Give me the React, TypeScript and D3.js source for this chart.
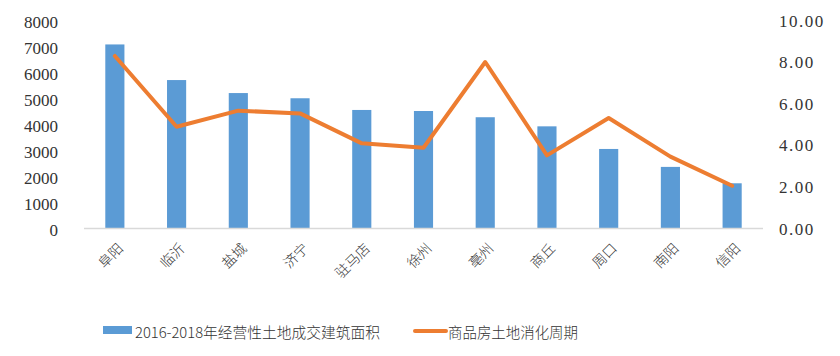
import React from "react";
import * as d3 from "d3";

const categories = ["阜阳", "临沂", "盐城", "济宁", "驻马店", "徐州", "亳州", "商丘", "周口", "南阳", "信阳"];
const areaValues = [7060, 5690, 5190, 4990, 4540, 4500, 4260, 3910, 3040, 2350, 1720];
const cycleValues = [8.27, 4.87, 5.64, 5.51, 4.07, 3.86, 7.98, 3.49, 5.29, 3.43, 2.03];
const leftTicks = [0, 1000, 2000, 3000, 4000, 5000, 6000, 7000, 8000];
const rightTicks = [0, 2, 4, 6, 8, 10];
const barLabel = "2016-2018年经营性土地成交建筑面积";
const lineLabel = "商品房土地消化周期";

const W = 840;
const H = 356;
const M = { left: 84, right: 763, top: 20, bottom: 228 };
const BLUE = "#5B9BD5";
const ORANGE = "#ED7D31";
const TICK_FONT = "Liberation Serif, Times New Roman, serif";
const CJK_FONT = "Noto Sans CJK SC, sans-serif";

export default function App() {
  const x = d3.scaleBand<string>().domain(categories).range([M.left, M.right]).paddingInner(0.69).paddingOuter(0.345);
  const yL = d3.scaleLinear().domain([0, 8000]).range([M.bottom, M.top]);
  const yR = d3.scaleLinear().domain([0, 10]).range([M.bottom, M.top]);
  const cx = (c: string) => (x(c) as number) + x.bandwidth() / 2;
  const line = d3
    .line<number>()
    .x((_, i) => cx(categories[i]))
    .y((d) => yR(d));

  return (
    <svg width={W} height={H} style={{ position: "absolute", left: 0, top: 0, background: "#fff" }}>
      {areaValues.map((v, i) => (
        <rect
          key={categories[i]}
          x={x(categories[i])}
          y={yL(v)}
          width={x.bandwidth()}
          height={yL(0) - yL(v)}
          fill={BLUE}
        />
      ))}
      <line x1={M.left} x2={M.right} y1={M.bottom + 0.5} y2={M.bottom + 0.5} stroke="#d9d9d9" strokeWidth={1.5} />
      <path d={line(cycleValues) || ""} fill="none" stroke={ORANGE} strokeWidth={4} strokeLinejoin="round" strokeLinecap="round" />
      {leftTicks.map((t) => (
        <text key={t} x={58} y={yL(t) + 2} textAnchor="end" dominantBaseline="central" style={{ fontFamily: TICK_FONT, fontSize: 17 }} fill="#333">
          {t}
        </text>
      ))}
      {rightTicks.map((t) => (
        <text key={t} x={779} y={yR(t) + 1} textAnchor="start" dominantBaseline="central" style={{ fontFamily: TICK_FONT, fontSize: 17, letterSpacing: "1.5px" }} fill="#333">
          {d3.format(".2f")(t)}
        </text>
      ))}
      {categories.map((c) => (
        <text
          key={c}
          transform={`translate(${cx(c) + 5},${245}) rotate(-45)`}
          textAnchor="end"
          dominantBaseline="central"
          style={{ fontFamily: CJK_FONT, fontSize: 14, fontWeight: 300 }}
          fill="#333"
        >
          {c}
        </text>
      ))}
      <rect x={103} y={326} width={29} height={8} fill={BLUE} />
      <text x={135} y={331} dominantBaseline="central" style={{ fontFamily: CJK_FONT, fontSize: 14.5, fontWeight: 300 }} fill="#333" textLength={245} lengthAdjust="spacingAndGlyphs">
        {barLabel}
      </text>
      <line x1={415} x2={446} y1={331} y2={331} stroke={ORANGE} strokeWidth={4} strokeLinecap="round" />
      <text x={448} y={331} dominantBaseline="central" style={{ fontFamily: CJK_FONT, fontSize: 14.5, fontWeight: 300 }} fill="#333" textLength={130} lengthAdjust="spacingAndGlyphs">
        {lineLabel}
      </text>
    </svg>
  );
}
